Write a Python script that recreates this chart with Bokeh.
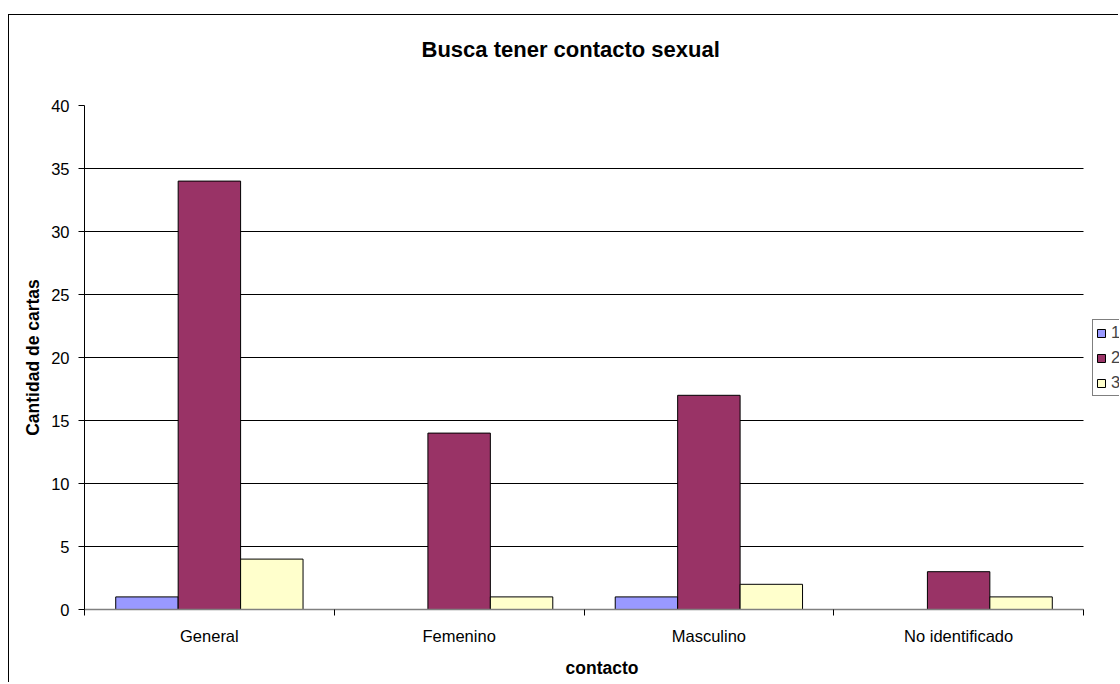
from bokeh.plotting import figure
from bokeh.models import ColumnDataSource, FixedTicker, Legend, LegendItem, Title
from bokeh.embed import file_html
from bokeh.resources import INLINE

# ---- data ----
categories = ["General", "Femenino", "Masculino", "No identificado"]
series_names = ["1", "2", "3"]
serie_1 = [1, 0, 1, 0]
serie_2 = [34, 14, 17, 3]
serie_3 = [4, 1, 2, 1]
y_ticks = [0, 5, 10, 15, 20, 25, 30, 35, 40]

title_text = "Busca tener contacto sexual"
x_title = "contacto"
y_title = "Cantidad de cartas"

colors = ["#9999FF", "#993366", "#FFFFCC"]
offsets = [-0.25, 0.0, 0.25]
FONT = "Liberation Sans"

# geometry: canvas 1110 px wide, frame starts 75 px in; the plot area (4 categories)
# is 999 px wide and the frame keeps going to the canvas edge to host the legend
W, H, LEFT = 1110, 668, 75
n = len(categories)
x_end = n * (W - LEFT) / 999.0

p = figure(width=W, height=H, x_range=(0, x_end), y_range=(0, 40),
           output_backend="svg", toolbar_location=None, title=None,
           min_border_left=LEFT, min_border_right=0,
           min_border_top=90, min_border_bottom=74)
p.margin = (14, 0, 0, 8)
p.styles = {"border-left": "1px solid #000000", "border-top": "1px solid #000000"}
p.outline_line_color = None
p.background_fill_color = "white"
p.border_fill_color = "white"

renderers = []
for j, vals in enumerate([serie_1, serie_2, serie_3]):
    xs = [i + 0.5 + offsets[j] for i in range(n)]
    lc = ["black" if v > 0 else None for v in vals]
    src = ColumnDataSource(dict(x=xs, top=vals, lc=lc))
    r = p.vbar(x="x", top="top", bottom=0, width=0.25, source=src,
               fill_color=colors[j], line_color="lc", line_width=1)
    renderers.append(r)

# x axis
p.xaxis.bounds = (0, n)
p.xaxis.ticker = FixedTicker(ticks=[i + 0.5 for i in range(n)],
                             minor_ticks=list(range(n + 1)))
p.xaxis.major_label_overrides = {i + 0.5: c for i, c in enumerate(categories)}
p.xaxis.major_tick_out = 0
p.xaxis.major_tick_in = 0
p.xaxis.minor_tick_out = 6
p.xaxis.minor_tick_in = 0
p.xaxis.minor_tick_line_color = "black"
p.xaxis.axis_line_color = "#808080"
p.xaxis.axis_line_width = 1.5
p.xaxis.major_label_text_font = FONT
p.xaxis.major_label_text_font_size = "16.5px"
p.xaxis.major_label_text_color = "black"
p.xaxis.major_label_standoff = 11
p.xaxis.axis_label = x_title
p.xaxis.axis_label_text_font = FONT
p.xaxis.axis_label_text_font_style = "bold"
p.xaxis.axis_label_text_font_size = "17.5px"
p.xaxis.axis_label_text_color = "black"
p.xaxis.axis_label_standoff = 10
p.xgrid.visible = False

# y axis
p.yaxis.ticker = FixedTicker(ticks=y_ticks, minor_ticks=[])
p.yaxis.major_tick_out = 6
p.yaxis.major_tick_in = 0
p.yaxis.major_tick_line_color = "black"
p.yaxis.axis_line_color = "black"
p.yaxis.major_label_text_font = FONT
p.yaxis.major_label_text_font_size = "16.5px"
p.yaxis.major_label_text_color = "black"
p.yaxis.major_label_standoff = 9
p.yaxis.axis_label = y_title
p.yaxis.axis_label_text_font = FONT
p.yaxis.axis_label_text_font_style = "bold"
p.yaxis.axis_label_text_font_size = "17.5px"
p.yaxis.axis_label_text_color = "black"
p.yaxis.axis_label_standoff = 5
p.ygrid.ticker = FixedTicker(ticks=y_ticks, minor_ticks=[])
p.ygrid.grid_line_color = "black"
p.ygrid.grid_line_width = 1
p.ygrid.cross_bounds = (0, n)

# title: spacer (closest to frame) then the real title
p.add_layout(Title(text=" ", text_font_size="1px", standoff=41), "above")
p.add_layout(Title(text=title_text, align="left", offset=337, standoff=0,
                   vertical_align="bottom", text_font=FONT, text_font_style="bold",
                   text_font_size="22px", text_color="black"), "above")

legend = Legend(items=[LegendItem(label=s, renderers=[r]) for s, r in zip(series_names, renderers)],
                location=(1008, 213), orientation="vertical",
                border_line_color="black", border_line_width=1,
                background_fill_color="white", background_fill_alpha=1,
                label_text_font=FONT, label_text_font_size="16.5px",
                glyph_width=10, glyph_height=10, label_standoff=5,
                padding=3, spacing=6, margin=0)
p.add_layout(legend, "center")

open("out.html", "w").write(file_html(p, INLINE))
